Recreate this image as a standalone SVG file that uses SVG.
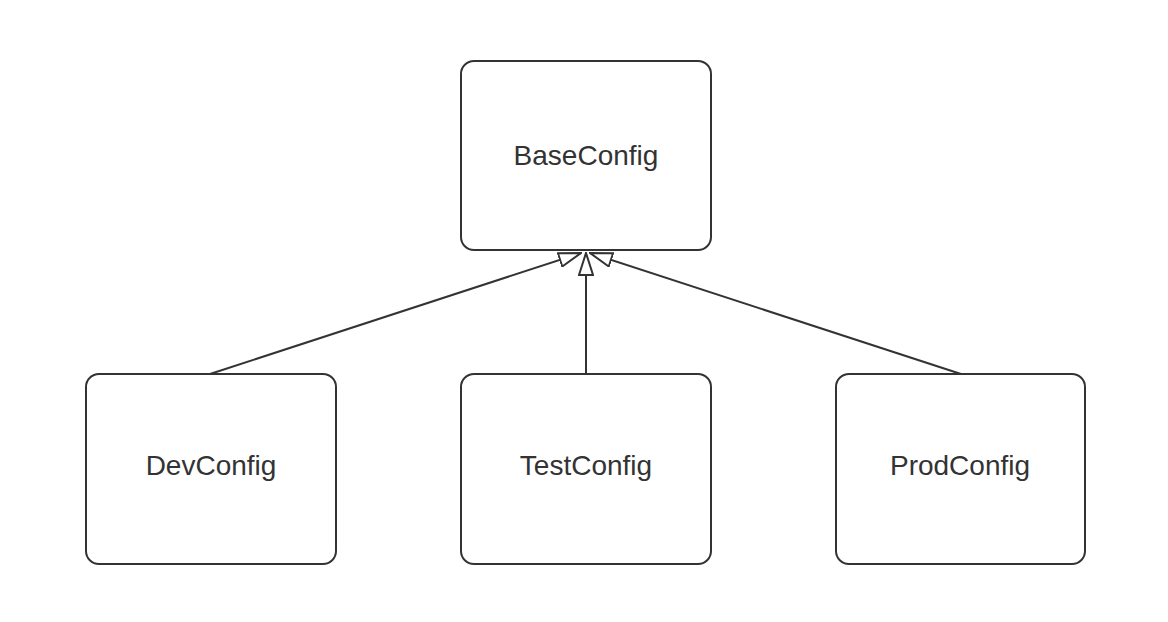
<svg xmlns="http://www.w3.org/2000/svg" width="1168" height="622" viewBox="0 0 1168 622">
<style>
.box{fill:#fff;stroke:#333;stroke-width:2}
.lbl{font-family:"Liberation Sans",Arial,sans-serif;font-size:28px;fill:#333;text-anchor:middle}
.edge{stroke:#333;stroke-width:2;fill:none;marker-end:url(#tri)}
</style>
<defs>
<marker id="tri" viewBox="0 0 24 16" refX="23" refY="8" markerWidth="24" markerHeight="16" markerUnits="userSpaceOnUse" orient="auto">
<path d="M1,1 L23,8 L1,15 Z" fill="#fff" stroke="#333" stroke-width="2"/>
</marker>
</defs>
<rect width="1168" height="622" fill="#fff"/>
<g id="connectors">
<line class="edge" x1="210" y1="374" x2="581" y2="253"/>
<line class="edge" x1="586" y1="374" x2="586" y2="253"/>
<line class="edge" x1="961" y1="374" x2="590" y2="253"/>
</g>
<g id="BaseConfig">
<rect class="box" x="461" y="61" width="250" height="189" rx="13"/>
<text class="lbl" x="586" y="165">BaseConfig</text>
</g>
<g id="DevConfig">
<rect class="box" x="86" y="374" width="250" height="190" rx="13"/>
<text class="lbl" x="211" y="475">DevConfig</text>
</g>
<g id="TestConfig">
<rect class="box" x="461" y="374" width="250" height="190" rx="13"/>
<text class="lbl" x="586" y="475">TestConfig</text>
</g>
<g id="ProdConfig">
<rect class="box" x="836" y="374" width="249" height="190" rx="13"/>
<text class="lbl" x="960" y="475">ProdConfig</text>
</g>
</svg>
